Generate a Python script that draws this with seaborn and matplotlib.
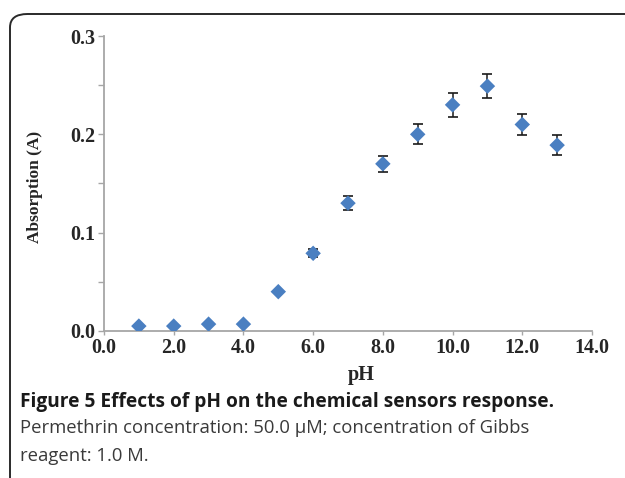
import matplotlib
matplotlib.use("Agg")
import matplotlib.pyplot as plt
import seaborn as sns
import pandas as pd
from matplotlib.patches import FancyBboxPatch
from matplotlib.ticker import MultipleLocator, FormatStrFormatter

# ---- data ----
ph = [1, 2, 3, 4, 5, 6, 7, 8, 9, 10, 11, 12, 13]
absorption = [0.005, 0.005, 0.007, 0.007, 0.040, 0.079, 0.130, 0.170, 0.200, 0.230, 0.249, 0.210, 0.189]
errors = [0.0, 0.0, 0.0, 0.0, 0.0, 0.004, 0.007, 0.008, 0.010, 0.012, 0.012, 0.011, 0.010]
x_ticks = [0, 2, 4, 6, 8, 10, 12, 14]
y_major = [0.0, 0.1, 0.2, 0.3]

caption_title = "Figure 5 Effects of pH on the chemical sensors response."
caption_body = ["Permethrin concentration: 50.0 \u00b5M; concentration of Gibbs",
                "reagent: 1.0 M."]

df = pd.DataFrame({"pH": ph, "Absorption": absorption, "err": errors})

sns.set_style("white")
plt.rcParams["font.family"] = ["Liberation Serif", "DejaVu Serif"]

fig = plt.figure(figsize=(6.25, 4.78), dpi=100)
W, H = 625, 478
ax = fig.add_axes([104 / W, 1 - 331 / H, (592 - 104) / W, (331 - 36) / H])

# rounded frame around the figure panel (runs off the right and bottom edges)
frame = FancyBboxPatch((10 / W, -0.2), 1.2, 1 - 14 / H + 0.2,
                       boxstyle="round,pad=0,rounding_size=0.028",
                       transform=fig.transFigure, fill=False,
                       edgecolor="#2a2a2a", linewidth=1.4, clip_on=False)
fig.patches.append(frame)

ax.errorbar(df["pH"], df["Absorption"], yerr=df["err"], fmt="none",
            ecolor="#1a1a1a", elinewidth=1.1, capsize=3.3, capthick=1.2, zorder=2)
sns.scatterplot(data=df, x="pH", y="Absorption", marker="D", color="#4a7fc1",
                s=62, edgecolor="none", ax=ax, zorder=3, legend=False)

ax.set_xlim(0, 14)
ax.set_ylim(0, 0.3)
ax.set_xticks(x_ticks)
ax.xaxis.set_major_formatter(FormatStrFormatter("%.1f"))
ax.set_yticks(y_major)
ax.yaxis.set_major_formatter(FormatStrFormatter("%.1f"))
ax.yaxis.set_minor_locator(MultipleLocator(0.05))

for s in ["top", "right"]:
    ax.spines[s].set_visible(False)
for s in ["left", "bottom"]:
    ax.spines[s].set_color("#a6a6a6")
    ax.spines[s].set_linewidth(1.3)

ax.tick_params(axis="y", which="both", direction="out", length=4, width=1,
               color="#a6a6a6", left=True, labelsize=14.5, pad=2)
ax.tick_params(axis="x", which="major", direction="out", length=3, width=1,
               color="#a6a6a6", bottom=True, labelsize=14.5, pad=2)
for lab in ax.get_xticklabels() + ax.get_yticklabels():
    lab.set_fontweight("bold")

ax.set_xlabel("pH", fontsize=14.5, fontweight="bold")
ax.set_ylabel("Absorption (A)", fontsize=12.5, fontweight="bold")
ax.xaxis.set_label_coords((361 - 104) / (592 - 104), -0.115)
ax.yaxis.set_label_coords(-(104 - 43) / (592 - 104), 0.49)

fig.text(20 / W, 1 - 402 / H, caption_title, fontsize=13.8, fontweight="bold",
         family="Open Sans", color="#1a1a1a", va="center", ha="left")
fig.text(20 / W, 1 - 428 / H, caption_body[0], fontsize=13.3, family="Open Sans",
         color="#3a3a3a", va="center", ha="left")
fig.text(20 / W, 1 - 456 / H, caption_body[1], fontsize=13.3, family="Open Sans",
         color="#3a3a3a", va="center", ha="left")

fig.savefig("out.png", dpi=100)
